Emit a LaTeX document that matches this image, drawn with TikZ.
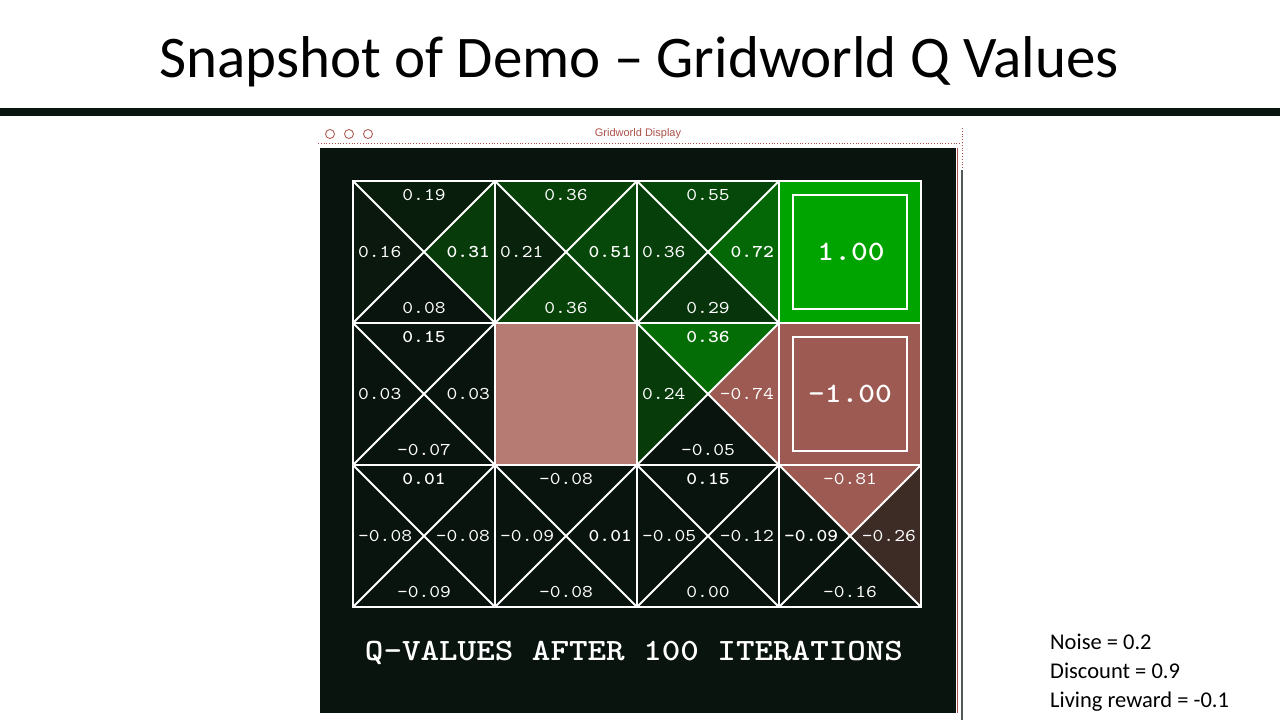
\documentclass[tikz,border=0pt]{standalone}
\usepackage{fontspec}
\setmainfont{Carlito}
\newfontfamily\qfont{lmmono10-regular.otf}[FakeStretch=1.14,BoldFont=lmmonolt10-bold.otf]
\newfontfamily\uifont{Liberation Sans}
\definecolor{bgd}{RGB}{10,20,14}
\definecolor{gfull}{RGB}{0,164,0}
\definecolor{rfull}{RGB}{156,90,82}
\definecolor{wallc}{RGB}{182,124,116}
\definecolor{winred}{RGB}{170,80,72}
\tikzset{
  qv/.style={font=\qfont\fontsize{18}{18}\selectfont, text=white, inner sep=0pt},
  qbig/.style={font=\qfont\bfseries\fontsize{28}{28}\selectfont, text=white, inner sep=0pt},
  gridline/.style={draw=white, line width=2.5pt},
  diag/.style={draw=white, line width=1.8pt},
  innersq/.style={draw=white, line width=2pt},
  sidetext/.style={font=\fontsize{22.5}{22.5}\selectfont, anchor=base west, inner sep=0pt},
}
\newcommand\qcell[6]{%
  \begin{scope}[shift={({353+142*#1},{181+142*#2})}]
    \fill[#3] (0,0)--(142,0)--(71,71)--cycle;
    \fill[#4] (142,0)--(142,142)--(71,71)--cycle;
    \fill[#5] (0,142)--(142,142)--(71,71)--cycle;
    \fill[#6] (0,0)--(0,142)--(71,71)--cycle;
    \draw[diag] (0,0)--(142,142) (142,0)--(0,142);
  \end{scope}}
\newcommand\qvals[6]{%
  \begin{scope}[shift={({353+142*#1},{181+142*#2})}]
    \node[qv] (q#1#2t) at (71,14) {#3};
    \node[qv,anchor=east] (q#1#2r) at (137,71) {#4};
    \node[qv] (q#1#2b) at (71,127) {#5};
    \node[qv,anchor=west] (q#1#2l) at (5,71) {#6};
  \end{scope}}
\begin{document}
\begin{tikzpicture}[x=1pt,y=-1pt]
\useasboundingbox (0,0) rectangle (1280,720);
\fill[white] (0,0) rectangle (1280,720);
% title
\node[font=\fontsize{59}{59}\selectfont, anchor=base, inner sep=0pt] (title) at (639,77) {Snapshot of Demo – Gridworld Q Values};
\fill[bgd] (0,108) rectangle (1280,116);
% window chrome
\draw[winred, line width=0.8pt] (330,134) circle (4.5) (349,134) circle (4.5) (368,134) circle (4.5);
\node[font=\uifont\fontsize{11}{11}\selectfont, text=winred, inner sep=0pt] (wtitle) at (638,134) {Gridworld Display};
\draw[winred, dotted, line width=0.8pt] (318,143) -- (962,143);
\fill[bgd] (320,147.5) rectangle (956,713);
\draw[winred, line width=0.8pt] (957,147.5) -- (957,713);
\draw[winred, dotted, line width=0.8pt] (962,128) -- (962,170);
\draw[bgd!70!white, line width=1.2pt] (962,170) -- (962,720);
% cells
\qcell{0}{0}{gfull!6!bgd}{gfull!28!bgd}{bgd}{gfull!3!bgd}
\qcell{1}{0}{gfull!32!bgd}{gfull!36!bgd}{gfull!32!bgd}{gfull!10!bgd}
\qcell{2}{0}{gfull!36!bgd}{gfull!58!bgd}{gfull!22!bgd}{gfull!30!bgd}
\qcell{0}{1}{bgd}{bgd}{bgd}{bgd}
\qcell{2}{1}{gfull!62!bgd}{rfull}{bgd}{gfull!28!bgd}
\qcell{0}{2}{bgd}{bgd}{bgd}{bgd}
\qcell{1}{2}{bgd}{bgd}{bgd}{bgd}
\qcell{2}{2}{bgd}{bgd}{bgd}{bgd}
\qcell{3}{2}{rfull}{rfull!35!bgd}{bgd}{bgd}
% terminal and wall cells
\fill[gfull] (779,181) rectangle (921,323);
\draw[innersq] (793,195) rectangle (907,309);
\node[qbig] (plusone) at (851,252) {1.00};
\fill[rfull] (779,323) rectangle (921,465);
\draw[innersq] (793,337) rectangle (907,451);
\node[qbig] (minusone) at (850,394) {-1.00};
\fill[wallc] (495,323) rectangle (637,465);
% grid
\draw[gridline] (353,181) rectangle (921,607);
\draw[gridline] (495,181) -- (495,607) (637,181) -- (637,607) (779,181) -- (779,607)
  (353,323) -- (921,323) (353,465) -- (921,465);
% values
\qvals{0}{0}{0.19}{\bfseries 0.31}{0.08}{0.16}
\qvals{1}{0}{0.36}{\bfseries 0.51}{0.36}{0.21}
\qvals{2}{0}{0.55}{\bfseries 0.72}{0.29}{0.36}
\qvals{0}{1}{\bfseries 0.15}{0.03}{-0.07}{0.03}
\qvals{2}{1}{\bfseries 0.36}{-0.74}{-0.05}{0.24}
\qvals{0}{2}{\bfseries 0.01}{-0.08}{-0.09}{-0.08}
\qvals{1}{2}{-0.08}{\bfseries 0.01}{-0.08}{-0.09}
\qvals{2}{2}{\bfseries 0.15}{-0.12}{0.00}{-0.05}
\qvals{3}{2}{-0.81}{-0.26}{-0.16}{\bfseries -0.09}
% caption
\node[font=\qfont\bfseries\fontsize{31}{31}\selectfont, text=white, anchor=base, inner sep=0pt] (caption) at (634,660) {Q-VALUES AFTER 100 ITERATIONS};
% parameters
\node[sidetext] (noise) at (1050,649) {Noise = 0.2};
\node[sidetext] (discount) at (1050,678) {Discount = 0.9};
\node[sidetext] (living) at (1050,707) {Living reward = -0.1};
\end{tikzpicture}
\end{document}
